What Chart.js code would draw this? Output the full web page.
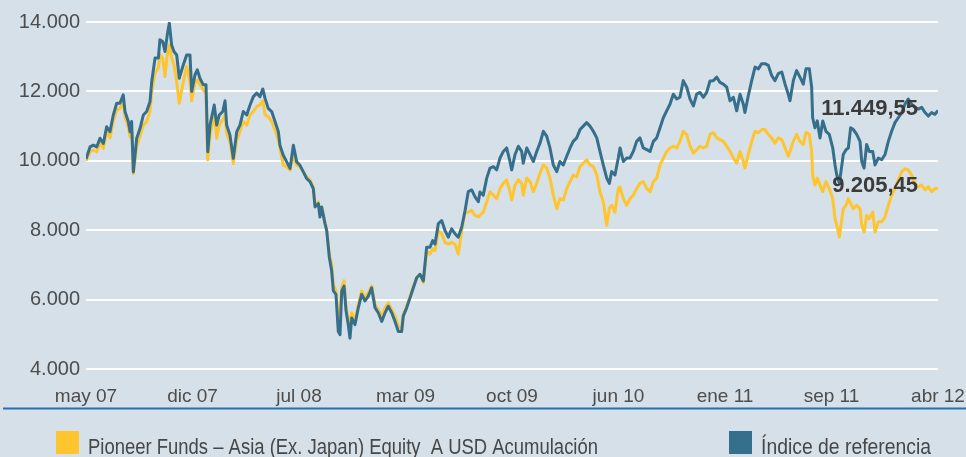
<!DOCTYPE html>
<html>
<head>
<meta charset="utf-8">
<script src="https://cdn.jsdelivr.net/npm/chart.js@4"></script>
<style>
body { margin:0; background:#d5e0e8; }
canvas { display:block; }
</style>
</head>
<body>
<canvas id="c" width="966" height="457"></canvas>
<script>
// eje X: meses desde may 07 (0) hasta abr 12 (59)
const etiquetasX = ['may 07','dic 07','jul 08','mar 09','oct 09','jun 10','ene 11','sep 11','abr 12']
const totalMeses = 59
const ticksY = [4000, 6000, 8000, 10000, 12000, 14000]

const meses = [
	0, 0.28, 0.51, 0.74, 0.97, 1.20, 1.43, 1.66, 1.89, 2.13, 2.35, 2.58, 2.70, 2.93, 3.05, 3.16, 3.28, 3.51, 3.74, 3.97,
	4.20, 4.43, 4.55, 4.78, 5.01, 5.12, 5.31, 5.47, 5.63, 5.77, 5.93, 6.09, 6.28, 6.46, 6.74, 6.97, 7.20, 7.32, 7.55, 7.71,
	7.89, 8.12, 8.31, 8.43, 8.59, 8.88, 9.05, 9.23, 9.47, 9.63, 9.74, 9.97, 10.20, 10.44, 10.66, 10.89, 11.13, 11.36, 11.59, 11.82,
	12.05, 12.24, 12.40, 12.62, 12.86, 13.09, 13.32, 13.43, 13.66, 13.90, 14.13, 14.36, 14.59, 14.82, 15.05, 15.28,
	15.51, 15.74, 15.86, 16.09, 16.20, 16.32, 16.55, 16.67, 16.85, 17.01, 17.13, 17.31, 17.47, 17.59, 17.71, 17.87, 18.01, 18.16, 18.28, 18.40,
	18.63, 18.86, 19.09, 19.32, 19.55, 19.78, 20.01, 20.24, 20.48, 20.71, 20.93, 21.17, 21.40, 21.63, 21.86, 21.97, 22.21, 22.44, 22.67, 22.90,
	23.13, 23.36, 23.59, 23.82, 24.01, 24.17, 24.40, 24.63, 24.86, 25.09, 25.32, 25.55, 25.78, 26.02, 26.25, 26.47, 26.71, 26.94, 27.17,
	27.28, 27.51, 27.75, 27.98, 28.21, 28.44, 28.67, 28.90, 29.13, 29.36, 29.48, 29.71, 29.94, 30.17, 30.28, 30.52, 30.75, 30.98, 31.21, 31.44,
	31.67, 31.90, 32.13, 32.36, 32.60, 32.82, 33.05, 33.29, 33.52, 33.74, 33.98, 34.21, 34.44, 34.67, 34.90, 35.13, 35.37, 35.59, 35.82, 36.06,
	36.24, 36.40, 36.63, 36.86, 36.98, 37.21, 37.44, 37.67, 37.90, 38.13, 38.36, 38.59, 38.83, 39.06, 39.29, 39.52, 39.75, 39.98, 40.21, 40.44,
	40.67, 40.91, 41.13, 41.36, 41.60, 41.83, 42.06, 42.29, 42.52, 42.75, 42.98, 43.21,
	43.44, 43.68, 43.90, 44.13, 44.37, 44.60, 44.83, 45.06, 45.29, 45.52, 45.63, 45.86, 46.10, 46.33, 46.56, 46.79, 47.02, 47.25, 47.48, 47.71,
	47.94, 48.18, 48.41, 48.63, 48.75, 48.98, 49.21, 49.44, 49.67, 49.86, 50.09, 50.25, 50.32, 50.48, 50.64, 50.83, 51.02, 51.24, 51.47, 51.71,
	51.87, 51.99, 52.17, 52.44, 52.63, 52.79, 52.95, 53.14, 53.37, 53.60, 53.72, 53.88, 54.06, 54.24, 54.48, 54.64, 54.87, 55.10, 55.33, 55.56,
	55.79, 56.02, 56.25, 56.49, 56.71, 56.94, 57.18, 57.41, 57.64, 57.87, 58.10, 58.33, 58.56, 58.79, 59.00,
]

const indice = [
	10050, 10400, 10450, 10400, 10650, 10500, 10980, 10840, 11320, 11660, 11660, 11900, 11420, 11130, 10840, 11130, 9680, 10650, 10930, 11320,
	11420, 11700, 12280, 12960, 12960, 13490, 13440, 13150, 13630, 13970, 13340, 13150, 13050, 12380, 12770, 13050, 13050, 12000, 12480, 12620,
	12380, 12190, 12190, 10260, 11030, 11610, 11030, 11320, 11420, 11730, 11030, 10740, 10070, 10840, 11030, 11420, 11320, 11610, 11850, 11950,
	11850, 12070, 11800, 11510, 11420, 11130, 10840, 10450, 10160, 9970, 9780, 10450, 9970, 9870, 9680, 9490,
	9400, 9200, 8670, 8770, 8380, 8670, 8190, 7990, 7220, 6830, 6250, 6150, 5080, 4990, 6250, 6390, 5670, 5280, 4890, 5470,
	5280, 5770, 6150, 5960, 6100, 6340, 5770, 5620, 5370, 5620, 5810, 5620, 5370, 5080, 5080, 5520, 5770, 6050, 6340, 6630,
	6730, 6540, 7510, 7510, 7700, 7600, 8190, 8280, 7990, 7800, 8040, 7900, 7800, 8090, 8570, 9110, 9160, 8960, 8820,
	9100, 9010, 9500, 9790, 9830, 9740, 10080, 10270, 10370, 9980, 9740, 10180, 10420, 10270, 9930, 10370, 10180, 9980, 10270, 10510,
	10850, 10710, 10370, 9880, 9690, 9980, 9880, 10130, 10370, 10560, 10660, 10900, 11000, 11100, 11000, 10850, 10660, 10270, 9880, 9500,
	9350, 9690, 9590, 10080, 10370, 9980, 10080, 10080, 10270, 10560, 10660, 10370, 10320, 10270, 10560, 10660, 10950, 11240, 11440, 11630,
	11920, 11780, 11830, 12310, 12120, 11780, 11580, 11920, 11970, 11830, 11970, 12300,
	12310, 12410, 12260, 12210, 12120, 11730, 11830, 11440, 11920, 11630, 11390, 11870, 12310, 12700, 12650, 12800, 12800, 12750, 12460, 12310,
	12510, 12560, 12210, 11920, 11730, 12310, 12600, 12410, 12210, 12650, 12650, 12120, 11240, 10950, 11150, 10660, 11150, 10850, 10760, 10370,
	9880, 9590, 9350, 10180, 10320, 10370, 10950, 10900, 10760, 10560, 9980, 9790, 10470, 10270, 10270, 9880, 10080, 10030, 10180, 10560,
	10850, 11100, 11240, 11390, 11630, 11780, 11630, 11540, 11490, 11540, 11390, 11290, 11390, 11340, 11449.55,
]

const fondo = [
	10000, 10260, 10310, 10260, 10500, 10360, 10840, 10660, 11150, 11460, 11510, 11690, 11270, 10980, 10690, 10930, 9630, 10400, 10720, 11030,
	11130, 11420, 11990, 12530, 12670, 13060, 12960, 12430, 13060, 13340, 12960, 12770, 12280, 11660, 12280, 12720, 12280, 11730, 12280, 12330,
	12190, 12040, 11950, 10020, 10740, 11370, 10650, 11030, 11180, 11320, 10790, 10550, 9920, 10600, 10840, 11130, 11030, 11320, 11420, 11560,
	11610, 11730, 11320, 11270, 11130, 10890, 10600, 10360, 9870, 9830, 9730, 10160, 9870, 9830, 9680, 9540,
	9450, 9250, 8720, 8820, 8430, 8670, 8240, 7990, 7310, 7020, 6440, 6250, 5470, 5660, 6340, 6540, 5760, 5470, 5080, 5620,
	5420, 5860, 6250, 6050, 6200, 6390, 5860, 5710, 5520, 5760, 5910, 5710, 5520, 5230, 5180, 5570, 5810, 6100, 6390, 6630,
	6730, 6490, 7410, 7310, 7460, 7410, 7990, 7900, 7650, 7600, 7650, 7600, 7310, 7990, 8520, 8520, 8570, 8430, 8380,
	8430, 8520, 8820, 9110, 9010, 8910, 9200, 9350, 9450, 9110, 8870, 9300, 9450, 9350, 9010, 9500, 9400, 9110, 9350, 9640,
	9880, 9790, 9500, 9010, 8620, 8910, 8870, 9200, 9400, 9590, 9540, 9830, 9930, 10030, 9880, 9830, 9590, 9110, 8820, 8140,
	8620, 8720, 8520, 9200, 9250, 8910, 8720, 8910, 9010, 9200, 9350, 9400, 9200, 9110, 9400, 9500, 9880, 10080, 10270, 10370,
	10420, 10370, 10560, 10850, 10750, 10420, 10220, 10320, 10420, 10370, 10420, 10760,
	10810, 10660, 10610, 10560, 10420, 10270, 10080, 9930, 10270, 9980, 9790, 10180, 10560, 10850, 10810, 10900, 10900, 10760, 10660, 10510,
	10660, 10610, 10370, 10130, 10270, 10560, 10760, 10560, 10470, 10810, 10760, 10270, 9590, 9300, 9500, 9300, 9110, 9400, 9200, 8910,
	8330, 8140, 7800, 8620, 8720, 8910, 8770, 8620, 8720, 8620, 8140, 7950, 8430, 8330, 8520, 7950, 8240, 8240, 8380, 8720,
	9010, 9200, 9450, 9690, 9770, 9740, 9590, 9350, 9250, 9300, 9160, 9250, 9110, 9200, 9205.45,
]

const nombres = ['Índice de referencia', 'Pioneer Funds – Asia (Ex. Japan) Equity  A USD Acumulación']
const colores = ['#366f8b', '#fec52e']

const miles = n => String(n).replace(/\B(?=(\d{3})+(?!\d))/g, '.')
const conDecimales = n => { const [e, d] = n.toFixed(2).split('.'); return miles(e) + ',' + d }

const fuente = '"Liberation Sans", Arial, sans-serif'

const extras = {
	id: 'extras',
	afterDatasetsDraw: c => {
		const ctx = c.ctx
		ctx.save()
		ctx.font = 'bold 22px ' + fuente
		ctx.fillStyle = '#3b3b3b'
		ctx.textAlign = 'right'
		ctx.textBaseline = 'middle'
		c.data.datasets.forEach((d, i) => {
			const pts = c.getDatasetMeta(i).data
			const p = pts[pts.length - 1]
			ctx.fillText(conDecimales(d.data[d.data.length - 1].y), p.x - 20, p.y - 2)
		})
		ctx.restore()
	},
	afterDraw: c => {
		const ctx = c.ctx
		ctx.save()
		// linea separadora
		ctx.strokeStyle = '#2270b0'
		ctx.lineWidth = 2
		ctx.beginPath(); ctx.moveTo(3, 408.5); ctx.lineTo(c.width, 408.5); ctx.stroke()
		// leyenda: fondo a la izquierda, indice a la derecha (texto condensado)
		ctx.font = '22px ' + fuente
		ctx.textBaseline = 'alphabetic'
		;[[1, 56, 510], [0, 729, 170]].forEach(([i, x, ancho]) => {
			ctx.fillStyle = colores[i]
			ctx.fillRect(x, 431, 23, 23)
			ctx.fillStyle = '#474747'
			ctx.fillText(nombres[i], x + 32, 453.5, ancho)
		})
		ctx.restore()
	}
}

new Chart(document.getElementById('c'), {
	type: 'line',
	data: {
		datasets: [indice, fondo].map((s, i) => ({
			label: nombres[i],
			data: s.map((v, j) => ({ x: meses[j], y: v })),
			borderColor: colores[i],
			backgroundColor: colores[i],
			borderWidth: 3,
			borderJoinStyle: 'round',
			pointRadius: 0,
			tension: 0,
			fill: false,
		}))
	},
	options: {
		responsive: false,
		devicePixelRatio: 1,
		animation: false,
		layout: { padding: { top: 22, right: 28, left: 0, bottom: 0 } },
		plugins: { legend: { display: false }, tooltip: { enabled: false } },
		scales: {
			x: {
				type: 'linear',
				min: 0,
				max: totalMeses,
				grid: { display: false },
				border: { display: false },
				afterBuildTicks: s => { s.ticks = etiquetasX.map((_, i) => ({ value: i * totalMeses / (etiquetasX.length - 1) })) },
				afterFit: s => { s.height = 88; s.paddingLeft = 0; s.paddingRight = 0 },
				ticks: {
					autoSkip: false,
					maxRotation: 0,
					padding: 8,
					color: '#4d4d4d',
					font: { family: fuente, size: 19 },
					callback: (v, i) => etiquetasX[i],
				}
			},
			y: {
				min: ticksY[0],
				max: ticksY[ticksY.length - 1],
				afterBuildTicks: s => { s.ticks = ticksY.map(v => ({ value: v })) },
				afterFit: s => { s.width = 86 },
				grid: { color: '#ffffff', lineWidth: 2, drawTicks: false },
				border: { display: false },
				ticks: {
					padding: 6,
					color: '#4d4d4d',
					font: { family: fuente, size: 20 },
					callback: v => miles(v),
				}
			}
		}
	},
	plugins: [extras]
})
</script>
</body>
</html>
